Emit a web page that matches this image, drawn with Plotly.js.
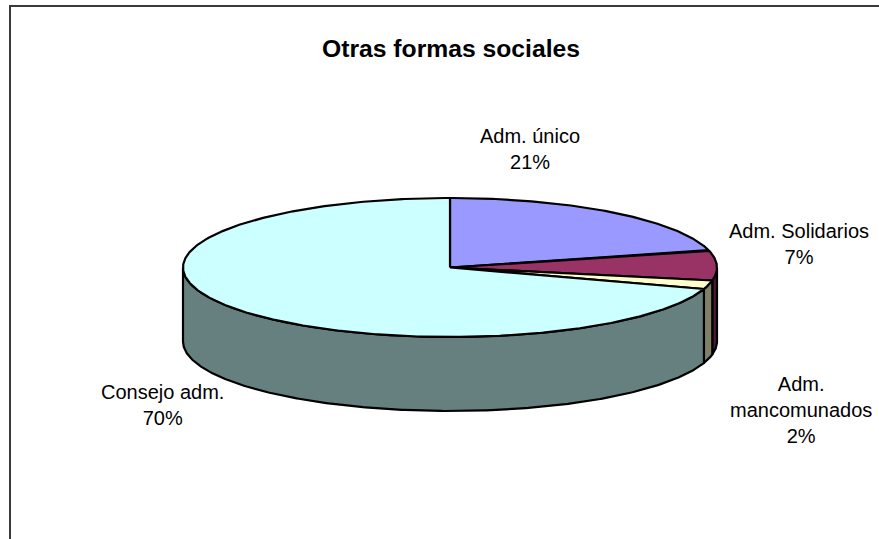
<!DOCTYPE html>
<html>
<head>
<meta charset="utf-8">
<script src="https://cdn.plot.ly/plotly-3.0.1.min.js"></script>
<style>html,body{margin:0;padding:0;background:#fff}#c{width:879px;height:539px}</style>
</head>
<body>
<div id="c"></div>
<script>
const categories = ["Adm. único", "Adm. Solidarios", "Adm. mancomunados", "Consejo adm."];
const values = [21, 7, 2, 70];
const topColors = ["#9999FF", "#993366", "#FFFFCC", "#CCFFFF"];
const sideColors = ["#4D4D80", "#4D1A33", "#808066", "#668080"];
const labelTexts = ["Adm. único<br>21%", "Adm. Solidarios<br>7%", "Adm.<br>mancomunados<br>2%", "Consejo adm.<br>70%"];
const labelX = [530, 799, 801, 162];
const labelY = [148.5, 243.5, 410, 405];
const chartTitle = "Otras formas sociales";

const cx = 450, cy = 267.5, rx = 267, ry = 69.5, depth = 74;
const total = values.reduce((a, b) => a + b, 0);
const px = t => cx + rx * Math.sin(t);
const py = (t, d) => cy - ry * Math.cos(t) + d;
const arc = (a, b, d) => {
  const n = Math.max(2, Math.ceil(Math.abs(b - a) / 0.01));
  const xs = [], ys = [];
  for (let i = 0; i <= n; i++) {
    const t = a + (b - a) * i / n;
    xs.push(px(t)); ys.push(py(t, d));
  }
  return [xs, ys];
};
const lineStyle = {color: "#000", width: 2.2};
const poly = (x, y, fill) => ({
  type: "scatter", mode: "lines", x, y, fill: "toself", fillcolor: fill,
  line: lineStyle, hoverinfo: "skip", showlegend: false
});

const sides = [], tops = [];
let start = 0;
values.forEach((v, i) => {
  const end = start + v / total * 2 * Math.PI;
  const a = Math.max(start, Math.PI / 2), b = Math.min(end, 3 * Math.PI / 2);
  if (b > a) {
    const [x1, y1] = arc(a, b, 0);
    const [x2, y2] = arc(b, a, depth);
    sides.push(poly(x1.concat(x2, [x1[0]]), y1.concat(y2, [y1[0]]), sideColors[i]));
  }
  const [tx, ty] = arc(start, end, 0);
  tops.push(poly([cx].concat(tx, [cx]), [cy].concat(ty, [cy]), topColors[i]));
  start = end;
});

const annotations = categories.map((c, i) => ({
  x: labelX[i], y: labelY[i], xref: "x", yref: "y", text: labelTexts[i],
  showarrow: false, xanchor: "center", yanchor: "middle", align: "center",
  font: {family: "Liberation Sans, Arial, sans-serif", size: 20, color: "#000"}
}));
annotations.push({
  x: 451, y: 48, xref: "x", yref: "y", text: "<b>" + chartTitle + "</b>",
  showarrow: false, xanchor: "center", yanchor: "middle",
  font: {family: "Liberation Sans, Arial, sans-serif", size: 24.7, color: "#000"}
});

const layout = {
  width: 879, height: 539,
  margin: {l: 0, r: 0, t: 0, b: 0},
  paper_bgcolor: "#fff", plot_bgcolor: "#fff",
  xaxis: {range: [0, 879], visible: false, fixedrange: true},
  yaxis: {range: [539, 0], visible: false, fixedrange: true},
  shapes: [
    {type: "line", xref: "x", yref: "y", x0: 9, y0: 6, x1: 879, y1: 6, line: {color: "#3a3a3a", width: 2}},
    {type: "line", xref: "x", yref: "y", x0: 10, y0: 5, x1: 10, y1: 539, line: {color: "#3a3a3a", width: 2}}
  ],
  annotations
};
Plotly.newPlot("c", sides.concat(tops), layout, {displayModeBar: false, staticPlot: true});
</script>
</body>
</html>
